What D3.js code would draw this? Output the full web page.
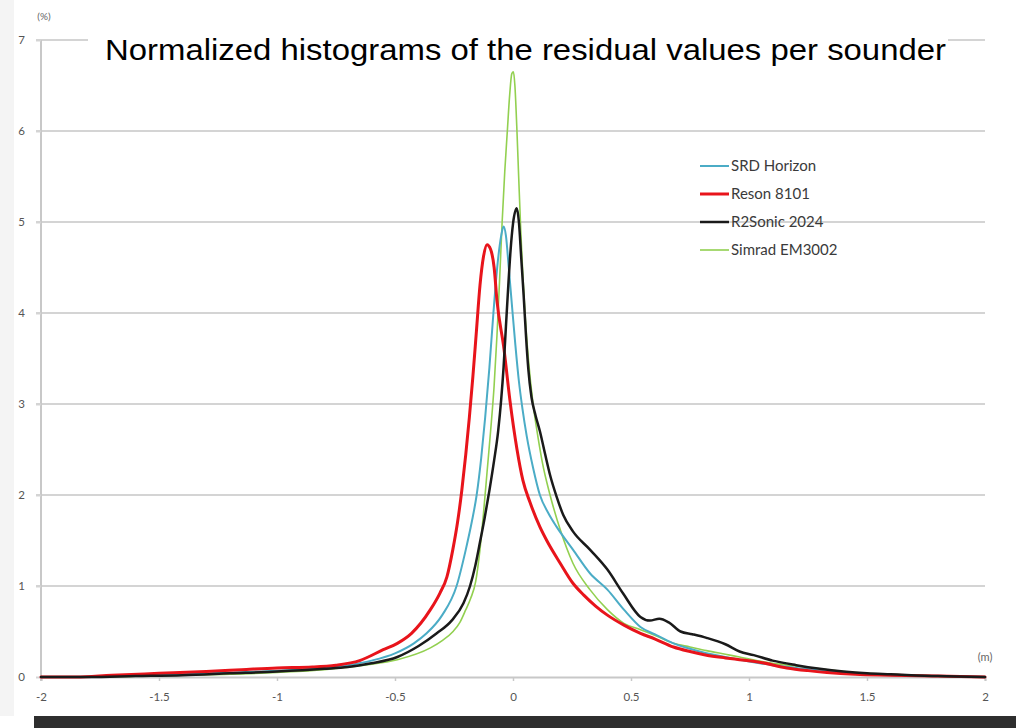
<!DOCTYPE html>
<html>
<head>
<meta charset="utf-8">
<script src="https://cdn.jsdelivr.net/npm/d3@7"></script>
<style>
html,body{margin:0;padding:0;background:#fff;}
svg{display:block;}
</style>
</head>
<body>
<svg id="chart" width="1016" height="728"></svg>
<script>
// ---- data ----
const titleText = "Normalized histograms of the residual values per sounder";
const seriesNames = ["SRD Horizon", "Reson 8101", "R2Sonic 2024", "Simrad EM3002"];
const seriesColors = ["#4bacc6", "#e8141b", "#1a1a1a", "#92d050"];
const seriesWidths = [2, 3, 2.5, 1.6];
const xTickValues = [-2, -1.5, -1, -0.5, 0, 0.5, 1, 1.5, 2];
const xTickLabels = ["-2", "-1.5", "-1", "-0.5", "0", "0.5", "1", "1.5", "2"];
const yTickValues = [0, 1, 2, 3, 4, 5, 6, 7];
const yTickLabels = ["0", "1", "2", "3", "4", "5", "6", "7"];

const srdX = [-2, -1.8, -1.6, -1.4, -1.2, -1.0, -0.8, -0.7, -0.6, -0.5, -0.42, -0.366, -0.3, -0.239, -0.2, -0.175, -0.154, -0.135, -0.118, -0.1, -0.083, -0.065, -0.05, -0.04, -0.03, -0.018, -0.005, 0.01, 0.025, 0.04, 0.058, 0.085, 0.114, 0.15, 0.185, 0.254, 0.326, 0.4, 0.47, 0.54, 0.6, 0.68, 0.75, 0.82, 0.9, 0.96, 1.1, 1.2, 1.3, 1.4, 1.5, 1.6, 1.8, 2.0];
const srdY = [0, 0.0, 0.02, 0.03, 0.05, 0.07, 0.1, 0.13, 0.18, 0.26, 0.37, 0.48, 0.68, 1.0, 1.4, 1.7, 2.0, 2.4, 2.85, 3.4, 4.0, 4.55, 4.85, 4.95, 4.85, 4.5, 4.1, 3.65, 3.25, 2.95, 2.65, 2.3, 2.0, 1.8, 1.65, 1.4, 1.14, 0.96, 0.74, 0.55, 0.47, 0.37, 0.31, 0.26, 0.22, 0.19, 0.13, 0.1, 0.07, 0.05, 0.03, 0.02, 0.01, 0];

const resonX = [-2, -1.85, -1.7, -1.5, -1.3, -1.15, -1.0, -0.85, -0.75, -0.65, -0.55, -0.49, -0.43, -0.35, -0.31, -0.28, -0.255, -0.235, -0.217, -0.2, -0.185, -0.17, -0.155, -0.14, -0.125, -0.11, -0.095, -0.08, -0.068, -0.038, -0.013, 0.017, 0.042, 0.072, 0.114, 0.143, 0.2, 0.254, 0.3, 0.35, 0.4, 0.47, 0.54, 0.6, 0.68, 0.75, 0.82, 0.9, 0.96, 1.05, 1.16, 1.25, 1.33, 1.45, 1.6, 1.8, 2.0];
const resonY = [0, 0.0, 0.02, 0.04, 0.06, 0.08, 0.1, 0.11, 0.13, 0.18, 0.3, 0.37, 0.48, 0.74, 0.92, 1.1, 1.4, 1.7, 2.05, 2.45, 2.85, 3.3, 3.8, 4.3, 4.62, 4.75, 4.7, 4.5, 4.14, 3.6, 3.04, 2.5, 2.16, 1.92, 1.65, 1.5, 1.25, 1.03, 0.9, 0.78, 0.68, 0.57, 0.48, 0.42, 0.33, 0.28, 0.24, 0.21, 0.19, 0.16, 0.1, 0.07, 0.05, 0.03, 0.02, 0.01, 0];

const r2sonicX = [-2, -1.8, -1.6, -1.4, -1.2, -1.0, -0.8, -0.7, -0.6, -0.49, -0.4, -0.323, -0.26, -0.21, -0.182, -0.16, -0.14, -0.12, -0.1, -0.08, -0.063, -0.05, -0.04, -0.03, -0.02, -0.01, 0.0, 0.016, 0.025, 0.035, 0.045, 0.055, 0.065, 0.078, 0.095, 0.114, 0.136, 0.157, 0.185, 0.213, 0.254, 0.326, 0.4, 0.466, 0.54, 0.58, 0.62, 0.66, 0.71, 0.76, 0.82, 0.9, 0.96, 1.02, 1.1, 1.2, 1.3, 1.4, 1.5, 1.6, 1.8, 2.0];
const r2sonicY = [0, 0.0, 0.01, 0.02, 0.04, 0.06, 0.09, 0.11, 0.15, 0.22, 0.34, 0.48, 0.62, 0.81, 1.0, 1.22, 1.48, 1.75, 2.05, 2.38, 2.7, 3.05, 3.4, 3.85, 4.3, 4.7, 4.98, 5.15, 5.0, 4.6, 4.2, 3.75, 3.38, 3.08, 2.88, 2.7, 2.45, 2.22, 1.98, 1.78, 1.6, 1.4, 1.18, 0.92, 0.66, 0.62, 0.64, 0.6, 0.5, 0.47, 0.43, 0.36, 0.28, 0.24, 0.18, 0.13, 0.09, 0.06, 0.04, 0.03, 0.01, 0];

const simradX = [-2, -1.8, -1.6, -1.4, -1.2, -1.0, -0.8, -0.63, -0.49, -0.35, -0.3, -0.254, -0.225, -0.2, -0.18, -0.158, -0.14, -0.125, -0.11, -0.095, -0.08, -0.068, -0.057, -0.046, -0.035, -0.024, -0.014, -0.005, 0.002, 0.008, 0.016, 0.024, 0.033, 0.042, 0.052, 0.065, 0.085, 0.105, 0.125, 0.157, 0.2, 0.254, 0.326, 0.4, 0.47, 0.54, 0.6, 0.68, 0.75, 0.82, 0.9, 0.96, 1.1, 1.2, 1.3, 1.4, 1.5, 1.6, 1.8, 2.0];
const simradY = [0, 0.0, 0.01, 0.02, 0.03, 0.05, 0.08, 0.13, 0.19, 0.32, 0.4, 0.5, 0.6, 0.74, 0.86, 1.05, 1.4, 1.8, 2.25, 2.7, 3.2, 3.75, 4.35, 5.0, 5.55, 6.0, 6.4, 6.63, 6.65, 6.5, 6.05, 5.5, 4.9, 4.4, 3.95, 3.5, 3.0, 2.65, 2.35, 2.0, 1.62, 1.25, 0.96, 0.74, 0.59, 0.52, 0.46, 0.37, 0.33, 0.29, 0.25, 0.22, 0.15, 0.12, 0.09, 0.06, 0.04, 0.03, 0.01, 0];

const seriesX = [srdX, resonX, r2sonicX, simradX];
const seriesY = [srdY, resonY, r2sonicY, simradY];
const drawOrder = [3, 0, 1, 2];

// ---- drawing ----
const svg = d3.select("#chart");
const x = d3.scaleLinear().domain([-2, 2]).range([41, 985]);
const y = d3.scaleLinear().domain([0, 7]).range([677, 40]);

svg.append("rect").attr("x", 0).attr("y", 0).attr("width", 1016).attr("height", 728).attr("fill", "#fff");
svg.append("rect").attr("x", 0).attr("y", 0).attr("width", 14).attr("height", 716).attr("fill", "#f4f4f4");

// grid lines
svg.append("g").selectAll("line").data(yTickValues.filter(d => d > 0)).join("line")
  .attr("x1", 36).attr("x2", x(2))
  .attr("y1", d => y(d)).attr("y2", d => y(d))
  .attr("stroke", "#d4d4d4").attr("stroke-width", 2);

// y axis line
svg.append("line").attr("x1", x(-2)).attr("x2", x(-2)).attr("y1", y(7)).attr("y2", y(0) + 4)
  .attr("stroke", "#c8c8c8").attr("stroke-width", 2);

// x axis
const xAxis = d3.axisBottom(x).tickValues(xTickValues).tickFormat((d, i) => xTickLabels[i]).tickSize(4).tickPadding(12);
const gx = svg.append("g").attr("transform", `translate(0,${y(0)})`).call(xAxis);
gx.select(".domain").attr("stroke", "#c8c8c8").attr("stroke-width", 2);
gx.selectAll(".tick line").attr("stroke", "#c8c8c8").attr("stroke-width", 1.5);
gx.selectAll(".tick text").attr("fill", "#555").attr("font-family", "Lato, 'Open Sans', sans-serif").attr("font-size", 11.5);

// y axis labels
const yAxis = d3.axisLeft(y).tickValues(yTickValues).tickFormat((d, i) => yTickLabels[i]).tickSize(5).tickPadding(11);
const gy = svg.append("g").attr("transform", `translate(${x(-2)},0)`).call(yAxis);
gy.select(".domain").remove();
gy.selectAll(".tick line").attr("stroke", "#d4d4d4").attr("stroke-width", 2);
gy.selectAll(".tick text").attr("fill", "#555").attr("font-family", "Lato, 'Open Sans', sans-serif").attr("font-size", 11.5);

// unit labels
svg.append("text").attr("x", 44).attr("y", 20).attr("text-anchor", "middle")
  .attr("font-family", "Lato, sans-serif").attr("font-size", 10).attr("fill", "#666").text("(%)");
svg.append("text").attr("x", 985).attr("y", 661).attr("text-anchor", "middle")
  .attr("font-family", "Lato, sans-serif").attr("font-size", 11).attr("fill", "#666").text("(m)");

// lines
const line = d3.line().x(d => x(d[0])).y(d => y(d[1])).curve(d3.curveMonotoneX);
const gl = svg.append("g");
drawOrder.forEach(i => {
  const pts = seriesX[i].map((v, k) => [v, seriesY[i][k]]);
  gl.append("path").attr("d", line(pts)).attr("fill", "none")
    .attr("stroke", seriesColors[i]).attr("stroke-width", seriesWidths[i])
    .attr("stroke-linejoin", "round").attr("stroke-linecap", "round");
});

// title box and title
svg.append("rect").attr("x", 88).attr("y", 22).attr("width", 860).attr("height", 46).attr("fill", "#fff");
svg.append("text").attr("x", 105).attr("y", 60)
  .attr("font-family", "'Liberation Sans', Arial, sans-serif").attr("font-size", 29).attr("fill", "#000")
  .attr("textLength", 841).attr("lengthAdjust", "spacingAndGlyphs")
  .text(titleText);

// legend
const legendY = [166, 194, 222, 250];
const lg = svg.append("g");
seriesNames.forEach((name, i) => {
  lg.append("line").attr("x1", 700).attr("x2", 729).attr("y1", legendY[i]).attr("y2", legendY[i])
    .attr("stroke", seriesColors[i]).attr("stroke-width", seriesWidths[i]);
  lg.append("text").attr("x", 731).attr("y", legendY[i] + 5)
    .attr("font-family", "Lato, 'Open Sans', sans-serif").attr("font-size", 15).attr("fill", "#3a3a3a")
    .text(name);
});

// bottom dark band
svg.append("rect").attr("x", 34).attr("y", 716).attr("width", 982).attr("height", 12).attr("fill", "#2e2e2e");
</script>
</body>
</html>
